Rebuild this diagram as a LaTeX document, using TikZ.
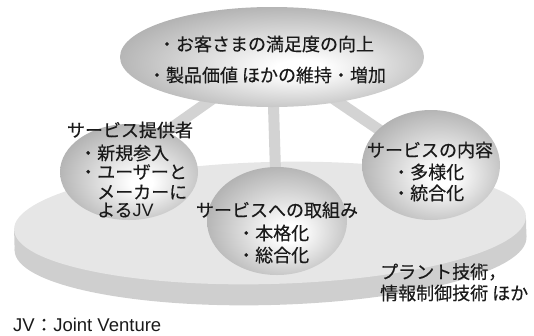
\documentclass[tikz,border=0pt]{standalone}
\usepackage{fontspec}
\setmainfont{Liberation Sans}
\newfontfamily\jp[FakeBold=0.35]{Noto Sans CJK JP}
\usetikzlibrary{shapes.geometric}
\definecolor{diskface}{HTML}{E6E6E6}
\definecolor{diskside}{HTML}{CFCFCF}
\definecolor{barc}{HTML}{D3D3D3}
\definecolor{txt}{HTML}{1A1A1A}
\pgfdeclareradialshading{ballshade}{\pgfpoint{5bp}{-6bp}}{color(0bp)=(white); color(4bp)=(white); color(31bp)=(black!33); color(50bp)=(black!33)}
\begin{document}
\begin{tikzpicture}[x=1pt,y=-1pt,
  ball/.style={ellipse, inner sep=0pt, shading=ballshade},
  bar/.style={draw=barc, line width=11pt},
  lbl/.style={inner sep=0pt, text=txt, font=\jp\fontsize{18}{20}\selectfont},
  note/.style={inner sep=0pt, text=txt, font=\fontsize{18.5}{20}\selectfont}]
\useasboundingbox (0,0) rectangle (534,335);
% platform disk
\begin{scope}[rotate around={1.5:(270,223)}]
\fill[diskside] (14,223) rectangle (526,244);
\fill[diskside] (270,244) ellipse [x radius=256, y radius=61];
\fill[diskface] (270,223) ellipse [x radius=256, y radius=61];
\end{scope}
% centres
\coordinate (topc) at (272,57);
\coordinate (b1c) at (129,172);
\coordinate (b2c) at (277,221);
\coordinate (b3c) at (431,165);
\coordinate (b1bar) at (140,150);
% bars
\draw[bar] (topc) -- (b1bar);
\draw[bar] (topc) -- (b2c);
\draw[bar] (topc) -- (b3c);
% shapes
\node[ball, minimum width=304pt, minimum height=100pt] (top) at (topc) {};
\node[ball, minimum width=138pt, minimum height=96pt] (b1) at (b1c) {};
\node[ball, minimum width=140pt, minimum height=108pt] (b2) at (b2c) {};
\node[ball, minimum width=138pt, minimum height=110pt] (b3) at (b3c) {};
% texts
\node[lbl] (t1) at (266,44) {・お客さまの満足度の向上};
\node[lbl] (t2) at (267,75) {・製品価値 ほかの維持・増加};
\node[lbl] (p0) at (130,130) {サービス提供者};
\node[lbl, anchor=west] (p1) at (79,153) {・新規参入};
\node[lbl, anchor=west] (p2) at (79,172) {・ユーザーと};
\node[lbl, anchor=west] (p3) at (97,192) {メーカーに};
\node[lbl, anchor=west] (p4) at (97,210) {よる{\fontspec{Liberation Sans}JV}};
\node[lbl] (c0) at (277,210) {サービスへの取組み};
\node[lbl, anchor=west] (c1) at (237,233) {・本格化};
\node[lbl, anchor=west] (c2) at (237,255) {・総合化};
\node[lbl] (r0) at (430,150) {サービスの内容};
\node[lbl, anchor=west] (r1) at (392,172) {・多様化};
\node[lbl, anchor=west] (r2) at (392,193) {・統合化};
\node[lbl, anchor=west] (d1) at (380,272) {プラント技術，};
\node[lbl, anchor=west] (d2) at (380,293) {情報制御技術 ほか};
\node[note, anchor=west] (jv) at (13,325) {JV{\jp ：}Joint Venture};
\end{tikzpicture}
\end{document}
